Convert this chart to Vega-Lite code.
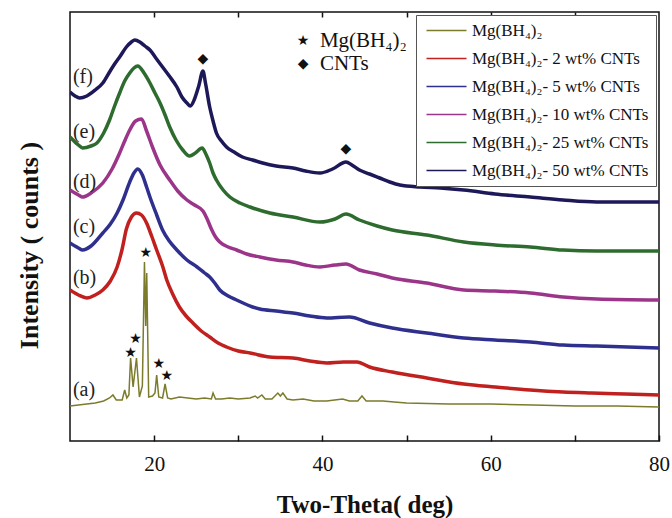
{
  "$schema": "https://vega.github.io/schema/vega-lite/v6.json",
  "width": 589,
  "height": 429,
  "autosize": {"type": "none"},
  "padding": {"left": 70, "top": 12, "right": 13, "bottom": 77},
  "config": {
    "font": "Liberation Serif",
    "view": {"stroke": "#111", "strokeWidth": 1.5},
    "axis": {"grid": false},
    "legend": {
      "orient": "top-right",
      "offset": 3,
      "strokeColor": "#555",
      "fillColor": "white",
      "padding": 7,
      "symbolType": "M-1,0L7,0",
      "symbolSize": 100,
      "symbolStrokeWidth": 1.5,
      "labelFontSize": 17,
      "labelFont": "Liberation Serif",
      "labelColor": "#111",
      "labelLimit": 0,
      "rowPadding": 10,
      "labelOffset": 32
    }
  },
  "datasets": {
    "curves": [
      {"k":"a","x":10.0,"y":35},{"k":"a","x":11.0,"y":36},{"k":"a","x":12.0,"y":37},{"k":"a","x":13.0,"y":38},{"k":"a","x":14.0,"y":40},{"k":"a","x":14.7,"y":43},{"k":"a","x":15.1,"y":46},{"k":"a","x":15.5,"y":41},{"k":"a","x":16.2,"y":41},{"k":"a","x":16.5,"y":51},{"k":"a","x":16.75,"y":43},{"k":"a","x":17.0,"y":46},{"k":"a","x":17.2,"y":83},{"k":"a","x":17.5,"y":54},{"k":"a","x":17.9,"y":83},{"k":"a","x":18.25,"y":44},{"k":"a","x":18.6,"y":55},{"k":"a","x":18.85,"y":179},{"k":"a","x":19.0,"y":115},{"k":"a","x":19.12,"y":168},{"k":"a","x":19.35,"y":44},{"k":"a","x":19.8,"y":45},{"k":"a","x":20.1,"y":48},{"k":"a","x":20.3,"y":66},{"k":"a","x":20.55,"y":44},{"k":"a","x":21.0,"y":43},{"k":"a","x":21.3,"y":57},{"k":"a","x":21.6,"y":43},{"k":"a","x":22.0,"y":42},{"k":"a","x":23.0,"y":44},{"k":"a","x":24.0,"y":43},{"k":"a","x":25.0,"y":42},{"k":"a","x":26.0,"y":43},{"k":"a","x":26.8,"y":42},{"k":"a","x":27.0,"y":48},{"k":"a","x":27.3,"y":42},{"k":"a","x":28.0,"y":42},{"k":"a","x":29.0,"y":43},{"k":"a","x":30.0,"y":42},{"k":"a","x":31.4,"y":43},{"k":"a","x":32.0,"y":45},{"k":"a","x":32.3,"y":43},{"k":"a","x":32.8,"y":46},{"k":"a","x":33.2,"y":42},{"k":"a","x":34.0,"y":42},{"k":"a","x":34.7,"y":48},{"k":"a","x":35.0,"y":45},{"k":"a","x":35.3,"y":48},{"k":"a","x":35.8,"y":42},{"k":"a","x":36.5,"y":41},{"k":"a","x":37.7,"y":42},{"k":"a","x":39.0,"y":40},{"k":"a","x":40.5,"y":40},{"k":"a","x":42.4,"y":42},{"k":"a","x":43.2,"y":40},{"k":"a","x":44.2,"y":40},{"k":"a","x":44.7,"y":45},{"k":"a","x":45.2,"y":40},{"k":"a","x":46.0,"y":40},{"k":"a","x":47.2,"y":40},{"k":"a","x":48.5,"y":39},{"k":"a","x":50.0,"y":38},{"k":"a","x":55.0,"y":37},{"k":"a","x":60.0,"y":37},{"k":"a","x":65.0,"y":36},{"k":"a","x":70.0,"y":35},{"k":"a","x":75.0,"y":35},{"k":"a","x":80.0,"y":34},
      {"k":"b","x":10.0,"y":151},{"k":"b","x":11.0,"y":146},{"k":"b","x":12.0,"y":143},{"k":"b","x":13.0,"y":146},{"k":"b","x":13.9,"y":151},{"k":"b","x":14.8,"y":160},{"k":"b","x":15.6,"y":174},{"k":"b","x":16.2,"y":192},{"k":"b","x":16.7,"y":212},{"k":"b","x":17.3,"y":224},{"k":"b","x":17.9,"y":228},{"k":"b","x":18.5,"y":226},{"k":"b","x":19.1,"y":218},{"k":"b","x":19.7,"y":205},{"k":"b","x":20.3,"y":191},{"k":"b","x":21.0,"y":175},{"k":"b","x":21.5,"y":161},{"k":"b","x":22.2,"y":147},{"k":"b","x":23.0,"y":134},{"k":"b","x":23.8,"y":125},{"k":"b","x":24.6,"y":118},{"k":"b","x":25.6,"y":110},{"k":"b","x":26.6,"y":104},{"k":"b","x":27.6,"y":98},{"k":"b","x":28.6,"y":94},{"k":"b","x":30.0,"y":90},{"k":"b","x":31.4,"y":88},{"k":"b","x":33.75,"y":84},{"k":"b","x":36.5,"y":83},{"k":"b","x":38.5,"y":80},{"k":"b","x":40.5,"y":78},{"k":"b","x":42.5,"y":79},{"k":"b","x":44.1,"y":79},{"k":"b","x":45.6,"y":74},{"k":"b","x":48.3,"y":69},{"k":"b","x":52.4,"y":63},{"k":"b","x":56.8,"y":57},{"k":"b","x":60.5,"y":54},{"k":"b","x":64.7,"y":51},{"k":"b","x":68.6,"y":49},{"k":"b","x":72.0,"y":48},{"k":"b","x":76.0,"y":47},{"k":"b","x":80.0,"y":46},
      {"k":"c","x":10.0,"y":198},{"k":"c","x":11.0,"y":193},{"k":"c","x":11.5,"y":191},{"k":"c","x":12.5,"y":195},{"k":"c","x":13.9,"y":208},{"k":"c","x":14.8,"y":217},{"k":"c","x":15.6,"y":228},{"k":"c","x":16.3,"y":241},{"k":"c","x":17.1,"y":259},{"k":"c","x":17.6,"y":268},{"k":"c","x":18.05,"y":272},{"k":"c","x":18.6,"y":266},{"k":"c","x":19.1,"y":254},{"k":"c","x":19.5,"y":244},{"k":"c","x":20.3,"y":226},{"k":"c","x":21.0,"y":211},{"k":"c","x":21.8,"y":200},{"k":"c","x":22.7,"y":191},{"k":"c","x":23.9,"y":181},{"k":"c","x":25.1,"y":174},{"k":"c","x":26.0,"y":168},{"k":"c","x":26.6,"y":164},{"k":"c","x":27.2,"y":158},{"k":"c","x":27.8,"y":151},{"k":"c","x":28.8,"y":145},{"k":"c","x":29.8,"y":141},{"k":"c","x":31.7,"y":134},{"k":"c","x":32.55,"y":132},{"k":"c","x":34.5,"y":130},{"k":"c","x":36.5,"y":128},{"k":"c","x":38.5,"y":125},{"k":"c","x":40.5,"y":123},{"k":"c","x":43.2,"y":124},{"k":"c","x":45.6,"y":118},{"k":"c","x":48.3,"y":113},{"k":"c","x":52.4,"y":108},{"k":"c","x":56.8,"y":103},{"k":"c","x":60.5,"y":101},{"k":"c","x":64.7,"y":99},{"k":"c","x":68.6,"y":96},{"k":"c","x":72.6,"y":95},{"k":"c","x":80.0,"y":93},
      {"k":"d","x":10.0,"y":251},{"k":"d","x":11.0,"y":246},{"k":"d","x":11.5,"y":244},{"k":"d","x":12.5,"y":248},{"k":"d","x":13.9,"y":258},{"k":"d","x":15.0,"y":272},{"k":"d","x":15.9,"y":288},{"k":"d","x":16.5,"y":300},{"k":"d","x":17.1,"y":311},{"k":"d","x":17.8,"y":320},{"k":"d","x":18.5,"y":322},{"k":"d","x":19.1,"y":310},{"k":"d","x":19.8,"y":294},{"k":"d","x":20.7,"y":276},{"k":"d","x":21.85,"y":261},{"k":"d","x":22.8,"y":250},{"k":"d","x":23.9,"y":241},{"k":"d","x":24.8,"y":236},{"k":"d","x":25.8,"y":230},{"k":"d","x":26.3,"y":222},{"k":"d","x":26.8,"y":212},{"k":"d","x":27.3,"y":204},{"k":"d","x":27.8,"y":199},{"k":"d","x":28.8,"y":194},{"k":"d","x":29.8,"y":191},{"k":"d","x":31.0,"y":187},{"k":"d","x":32.55,"y":184},{"k":"d","x":34.5,"y":181},{"k":"d","x":36.5,"y":179},{"k":"d","x":38.0,"y":176},{"k":"d","x":39.7,"y":174},{"k":"d","x":41.5,"y":176},{"k":"d","x":42.8,"y":177},{"k":"d","x":44.4,"y":171},{"k":"d","x":46.5,"y":167},{"k":"d","x":48.3,"y":163},{"k":"d","x":52.4,"y":158},{"k":"d","x":56.8,"y":151},{"k":"d","x":60.5,"y":150},{"k":"d","x":64.7,"y":148},{"k":"d","x":68.6,"y":144},{"k":"d","x":72.6,"y":142},{"k":"d","x":80.0,"y":141},
      {"k":"e","x":10.0,"y":304},{"k":"e","x":11.0,"y":296},{"k":"e","x":11.5,"y":293},{"k":"e","x":12.5,"y":295},{"k":"e","x":13.2,"y":298},{"k":"e","x":14.0,"y":308},{"k":"e","x":14.7,"y":321},{"k":"e","x":15.3,"y":335},{"k":"e","x":15.9,"y":348},{"k":"e","x":16.5,"y":360},{"k":"e","x":17.1,"y":368},{"k":"e","x":17.6,"y":373},{"k":"e","x":18.05,"y":375},{"k":"e","x":18.8,"y":368},{"k":"e","x":19.5,"y":358},{"k":"e","x":20.1,"y":348},{"k":"e","x":20.7,"y":338},{"k":"e","x":21.3,"y":326},{"k":"e","x":21.85,"y":314},{"k":"e","x":22.6,"y":301},{"k":"e","x":23.4,"y":291},{"k":"e","x":24.2,"y":285},{"k":"e","x":24.9,"y":288},{"k":"e","x":25.7,"y":293},{"k":"e","x":26.2,"y":286},{"k":"e","x":26.6,"y":278},{"k":"e","x":27.0,"y":268},{"k":"e","x":27.4,"y":261},{"k":"e","x":28.2,"y":251},{"k":"e","x":29.0,"y":244},{"k":"e","x":30.2,"y":238},{"k":"e","x":31.4,"y":234},{"k":"e","x":33.75,"y":228},{"k":"e","x":36.5,"y":224},{"k":"e","x":39.7,"y":219},{"k":"e","x":41.5,"y":222},{"k":"e","x":42.8,"y":227},{"k":"e","x":44.4,"y":221},{"k":"e","x":46.5,"y":215},{"k":"e","x":48.3,"y":211},{"k":"e","x":52.4,"y":206},{"k":"e","x":56.8,"y":199},{"k":"e","x":60.5,"y":196},{"k":"e","x":64.7,"y":194},{"k":"e","x":68.6,"y":191},{"k":"e","x":72.6,"y":190},{"k":"e","x":80.0,"y":190},
      {"k":"f","x":10.0,"y":349},{"k":"f","x":10.6,"y":345},{"k":"f","x":11.15,"y":343},{"k":"f","x":12.0,"y":345},{"k":"f","x":13.0,"y":351},{"k":"f","x":13.9,"y":358},{"k":"f","x":14.7,"y":369},{"k":"f","x":15.3,"y":377},{"k":"f","x":15.9,"y":384},{"k":"f","x":16.7,"y":394},{"k":"f","x":17.3,"y":399},{"k":"f","x":17.7,"y":401},{"k":"f","x":18.3,"y":399},{"k":"f","x":18.9,"y":395},{"k":"f","x":19.5,"y":391},{"k":"f","x":20.2,"y":383},{"k":"f","x":21.0,"y":374},{"k":"f","x":21.8,"y":365},{"k":"f","x":22.7,"y":354},{"k":"f","x":23.3,"y":344},{"k":"f","x":23.9,"y":338},{"k":"f","x":24.3,"y":335},{"k":"f","x":24.8,"y":342},{"k":"f","x":25.3,"y":355},{"k":"f","x":25.8,"y":370},{"k":"f","x":26.1,"y":358},{"k":"f","x":26.6,"y":334},{"k":"f","x":27.0,"y":320},{"k":"f","x":27.4,"y":308},{"k":"f","x":28.0,"y":300},{"k":"f","x":28.6,"y":294},{"k":"f","x":29.5,"y":289},{"k":"f","x":30.5,"y":284},{"k":"f","x":31.7,"y":281},{"k":"f","x":32.9,"y":278},{"k":"f","x":34.5,"y":275},{"k":"f","x":36.5,"y":273},{"k":"f","x":38.0,"y":270},{"k":"f","x":39.7,"y":268},{"k":"f","x":41.2,"y":272},{"k":"f","x":42.8,"y":279},{"k":"f","x":43.5,"y":276},{"k":"f","x":44.4,"y":271},{"k":"f","x":45.6,"y":267},{"k":"f","x":46.8,"y":263},{"k":"f","x":48.0,"y":259},{"k":"f","x":49.2,"y":256},{"k":"f","x":51.6,"y":254},{"k":"f","x":54.0,"y":253},{"k":"f","x":56.8,"y":251},{"k":"f","x":60.5,"y":247},{"k":"f","x":64.7,"y":244},{"k":"f","x":68.6,"y":241},{"k":"f","x":72.6,"y":239},{"k":"f","x":80.0,"y":239}
    ],
    "tags": [
      {"x":10.35,"y":364,"t":"(f)"},
      {"x":10.35,"y":309,"t":"(e)"},
      {"x":10.35,"y":259,"t":"(d)"},
      {"x":10.35,"y":214,"t":"(c)"},
      {"x":10.35,"y":163,"t":"(b)"},
      {"x":10.35,"y":51,"t":"(a)"}
    ],
    "symbols": [
      {"x":19.0,"y":188,"t":"★"},
      {"x":17.2,"y":88,"t":"★"},
      {"x":17.8,"y":102,"t":"★"},
      {"x":20.55,"y":77,"t":"★"},
      {"x":21.5,"y":65,"t":"★"},
      {"x":25.8,"y":382,"t":"◆"},
      {"x":42.8,"y":292,"t":"◆"},
      {"x":37.7,"y":400,"t":"★"},
      {"x":37.7,"y":377,"t":"◆"}
    ],
    "keytext": [
      {"x":39.7,"y":400,"t":"Mg(BH₄)₂"},
      {"x":39.7,"y":377,"t":"CNTs"}
    ]
  },
  "encoding": {
    "y": {"field": "y", "type": "quantitative", "scale": {"domain": [0, 429], "nice": false},
      "axis": {"title": "Intensity ( counts )", "labels": false, "ticks": false, "domain": false,
        "titleFontSize": 26, "titleFontWeight": "bold", "titleColor": "#111", "titlePadding": 28, "titleY": 233}}
  },
  "resolve": {"axis": {"x": "independent"}},
  "layer": [
    {
      "data": {"name": "curves"},
      "transform": [{"filter": "datum.k != 'a'"}],
      "mark": {"type": "line", "interpolate": "monotone", "strokeWidth": 3.5, "clip": true},
      "encoding": {
        "x": {"field": "x", "type": "quantitative", "scale": {"domain": [10, 80], "nice": false, "zero": false},
          "axis": {"orient": "bottom", "title": "Two-Theta(  deg)", "values": [20, 30, 40, 50, 60, 70, 80],
            "labelExpr": "datum.value % 20 == 0 ? datum.label : ''", "tickSize": -6, "tickWidth": 1.5, "tickColor": "#111",
            "domain": false, "labelFontSize": 21, "labelColor": "#111", "labelPadding": 18, "labelFlush": false,
            "titleFontSize": 25, "titleFontWeight": "bold", "titleColor": "#111", "titlePadding": 18}},
        "color": {"field": "k", "type": "nominal",
          "scale": {"domain": ["a", "b", "c", "d", "e", "f"], "range": ["#7b7b2b", "#c0201e", "#2f2f8e", "#9b3589", "#2e6b2e", "#1d1858"]},
          "legend": {"title": null, "labelExpr": "datum.label == 'a' ? 'Mg(BH₄)₂' : datum.label == 'b' ? 'Mg(BH₄)₂- 2 wt% CNTs' : datum.label == 'c' ? 'Mg(BH₄)₂- 5 wt% CNTs' : datum.label == 'd' ? 'Mg(BH₄)₂- 10 wt% CNTs' : datum.label == 'e' ? 'Mg(BH₄)₂- 25 wt% CNTs' : 'Mg(BH₄)₂- 50 wt% CNTs'"}}
      }
    },
    {
      "data": {"name": "curves"},
      "transform": [{"filter": "datum.k == 'a'"}],
      "mark": {"type": "line", "strokeWidth": 1.5, "clip": true},
      "encoding": {
        "x": {"field": "x", "type": "quantitative", "axis": null},
        "color": {"field": "k", "type": "nominal"}
      }
    },
    {
      "data": {"name": "tags"},
      "mark": {"type": "text", "align": "left", "baseline": "middle", "fontSize": 20, "color": "#222"},
      "encoding": {
        "x": {"field": "x", "type": "quantitative",
          "axis": {"orient": "top", "title": null, "labels": false, "values": [20, 30, 40, 50, 60, 70], "tickSize": -5, "tickWidth": 1.5, "tickColor": "#111", "domain": false}},
        "text": {"field": "t"}
      }
    },
    {
      "data": {"name": "symbols"},
      "mark": {"type": "text", "align": "center", "baseline": "middle", "fontSize": 14, "font": "DejaVu Sans", "color": "#111"},
      "encoding": {
        "x": {"field": "x", "type": "quantitative", "axis": null},
        "text": {"field": "t"}
      }
    },
    {
      "data": {"name": "keytext"},
      "mark": {"type": "text", "align": "left", "baseline": "middle", "fontSize": 21, "color": "#111"},
      "encoding": {
        "x": {"field": "x", "type": "quantitative", "axis": null},
        "text": {"field": "t"}
      }
    }
  ]
}
